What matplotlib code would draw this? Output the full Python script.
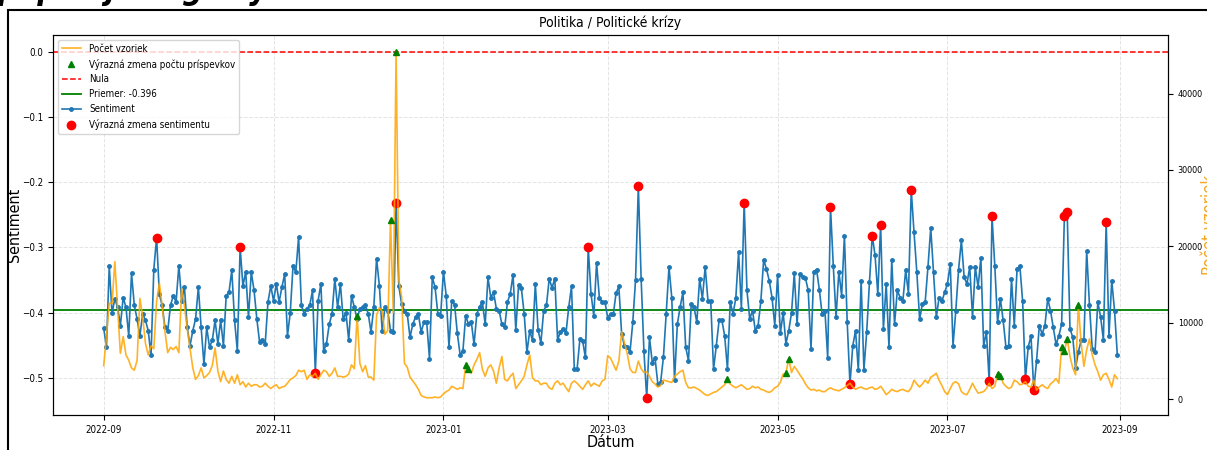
import pandas as pd
import numpy as np
import matplotlib
matplotlib.use("Agg")
import matplotlib.pyplot as plt
from matplotlib.patches import Rectangle

start_date = "2022-09-01"
n_days = 365

sentiment = [
    -0.424, -0.453, -0.329, -0.401, -0.379, -0.392, -0.420, -0.377, -0.392, -0.436,
    -0.340, -0.389, -0.410, -0.436, -0.402, -0.412, -0.428, -0.466, -0.334, -0.285,
    -0.372, -0.389, -0.423, -0.428, -0.389, -0.374, -0.384, -0.328, -0.382, -0.361,
    -0.423, -0.451, -0.428, -0.410, -0.361, -0.423, -0.479, -0.423, -0.453, -0.443,
    -0.412, -0.448, -0.412, -0.451, -0.374, -0.369, -0.335, -0.412, -0.459, -0.300,
    -0.359, -0.338, -0.407, -0.338, -0.366, -0.410, -0.446, -0.443, -0.448, -0.384,
    -0.359, -0.382, -0.356, -0.384, -0.361, -0.341, -0.436, -0.400, -0.328, -0.338,
    -0.284, -0.389, -0.402, -0.394, -0.389, -0.366, -0.493, -0.382, -0.356, -0.459,
    -0.448, -0.418, -0.402, -0.348, -0.392, -0.356, -0.410, -0.400, -0.443, -0.374,
    -0.392, -0.410, -0.394, -0.392, -0.389, -0.402, -0.430, -0.392, -0.317, -0.359,
    -0.428, -0.392, -0.397, -0.428, -0.430, -0.232, -0.360, -0.387, -0.397, -0.402,
    -0.438, -0.418, -0.407, -0.402, -0.430, -0.415, -0.415, -0.471, -0.346, -0.361,
    -0.402, -0.405, -0.337, -0.374, -0.453, -0.382, -0.388, -0.432, -0.465, -0.459,
    -0.405, -0.418, -0.414, -0.449, -0.402, -0.391, -0.384, -0.418, -0.346, -0.377,
    -0.369, -0.394, -0.397, -0.418, -0.423, -0.384, -0.371, -0.342, -0.427, -0.357,
    -0.363, -0.402, -0.461, -0.428, -0.443, -0.356, -0.427, -0.447, -0.397, -0.389,
    -0.348, -0.362, -0.348, -0.442, -0.430, -0.425, -0.432, -0.392, -0.360, -0.487,
    -0.487, -0.441, -0.444, -0.469, -0.300, -0.371, -0.405, -0.324, -0.377, -0.384,
    -0.384, -0.408, -0.402, -0.403, -0.370, -0.360, -0.433, -0.451, -0.453, -0.461,
    -0.415, -0.350, -0.206, -0.348, -0.459, -0.531, -0.438, -0.477, -0.470, -0.510,
    -0.507, -0.469, -0.402, -0.330, -0.377, -0.504, -0.418, -0.392, -0.369, -0.453,
    -0.474, -0.387, -0.392, -0.415, -0.348, -0.379, -0.330, -0.382, -0.383, -0.487,
    -0.451, -0.412, -0.412, -0.436, -0.487, -0.384, -0.402, -0.378, -0.307, -0.394,
    -0.231, -0.366, -0.410, -0.397, -0.428, -0.420, -0.382, -0.319, -0.333, -0.351,
    -0.377, -0.420, -0.343, -0.432, -0.400, -0.448, -0.428, -0.401, -0.340, -0.418,
    -0.341, -0.345, -0.347, -0.366, -0.456, -0.337, -0.334, -0.365, -0.403, -0.397,
    -0.470, -0.238, -0.328, -0.407, -0.337, -0.374, -0.282, -0.415, -0.510, -0.451,
    -0.428, -0.489, -0.351, -0.488, -0.430, -0.353, -0.282, -0.312, -0.372, -0.265,
    -0.425, -0.356, -0.453, -0.319, -0.418, -0.366, -0.377, -0.382, -0.335, -0.371,
    -0.212, -0.277, -0.338, -0.410, -0.387, -0.384, -0.330, -0.270, -0.338, -0.407,
    -0.377, -0.383, -0.369, -0.356, -0.325, -0.451, -0.397, -0.334, -0.289, -0.346,
    -0.356, -0.330, -0.407, -0.330, -0.361, -0.316, -0.451, -0.430, -0.506, -0.252,
    -0.328, -0.415, -0.379, -0.412, -0.453, -0.451, -0.348, -0.420, -0.333, -0.328,
    -0.383, -0.502, -0.453, -0.436, -0.519, -0.474, -0.420, -0.433, -0.420, -0.379,
    -0.397, -0.423, -0.449, -0.436, -0.418, -0.252, -0.246, -0.425, -0.438, -0.485,
    -0.461, -0.443, -0.443, -0.305, -0.389, -0.456, -0.461, -0.384, -0.407, -0.442,
    -0.261, -0.436, -0.351, -0.397, -0.465,
]

counts = [
    4400, 8200, 12600, 12500, 18000, 12100, 6000, 8200, 5800, 5100,
    4100, 3800, 5100, 13200, 10800, 7300, 5800, 7000, 6600, 12800,
    15200, 12200, 8900, 6100, 6800, 6500, 6900, 6100, 14500, 12200,
    9200, 6600, 4100, 2600, 3100, 4100, 2800, 3100, 3500, 4400,
    6700, 3700, 2300, 3700, 2600, 2100, 3000, 2100, 3200, 1900,
    2300, 1600, 2100, 1700, 1900, 1900, 1600, 1700, 2100, 1700,
    1400, 1700, 1900, 1400, 1600, 1700, 2100, 2600, 2800, 3100,
    3800, 3600, 3800, 2600, 3200, 3000, 3400, 2600, 3200, 3800,
    3600, 3000, 3400, 4100, 3000, 3000, 2900, 3000, 3300, 4500,
    4000, 10900, 4700, 3600, 4400, 2900, 2900, 2500, 11000, 12000,
    11500, 8500, 9000, 23500, 11300, 45400, 15600, 13400, 4700, 4200,
    2900, 2400, 1900, 1300, 500, 300, 200, 200, 200, 300,
    200, 300, 700, 1000, 1200, 1700, 1500, 1300, 1500, 1400,
    4500, 4000, 3400, 4500, 5200, 6100, 3900, 3000, 4100, 4500,
    3700, 2100, 4100, 5600, 2600, 2400, 3000, 3400, 1400, 1900,
    2400, 3000, 4500, 5800, 2800, 2400, 2400, 1900, 2100, 2100,
    1500, 1300, 2100, 2400, 1900, 2100, 1500, 1000, 2100, 2400,
    2100, 1700, 1300, 1900, 2400, 1700, 2100, 1900, 1700, 2400,
    2600, 5700, 5400, 4600, 3800, 5000, 8800, 7400, 6000, 4000,
    3500, 3500, 5000, 4000, 3500, 3600, 3000, 2300, 2000, 1600,
    1800, 2500, 2400, 2300, 2200, 3000, 3300, 3600, 3800, 2200,
    1500, 1500, 1600, 1400, 1200, 900, 600, 500, 700, 900,
    1000, 1300, 1600, 1900, 2600, 2000, 1700, 1500, 1700, 1900,
    1600, 1300, 1400, 1700, 1500, 1600, 1300, 1200, 1000, 900,
    1100, 1500, 1700, 2200, 3300, 3400, 5300, 3500, 4300, 3800,
    3200, 2700, 2000, 1500, 1200, 1300, 1100, 1200, 1000, 1000,
    1300, 1500, 1300, 1200, 1100, 1300, 1500, 1800, 2100, 1600,
    1300, 1500, 1600, 1400, 1300, 1500, 1600, 1300, 1400, 1700,
    1200, 600, 900, 1300, 1100, 1000, 1200, 1300, 1100, 1000,
    1500, 2500, 2000, 1600, 2000, 2500, 2100, 2900, 3100, 3400,
    2500, 1800, 1000, 600, 1400, 2100, 2300, 2000, 1000, 700,
    600, 1300, 2100, 1400, 800, 900, 1000, 1400, 2100, 1400,
    1700, 3300, 3100, 2100, 1700, 1400, 1600, 2500, 2300, 1900,
    2000, 2300, 1700, 1600, 2500, 1200, 1600, 1900, 1600, 1400,
    2000, 2300, 2700, 2100, 6800, 6300, 7900, 5600, 4100, 3200,
    12300, 7400, 4300, 6500, 7900, 5800, 4500, 3600, 2500, 3200,
    3400, 2600, 1600, 3200, 2700,
]

# indices of days with significant changes
sentiment_change_days = [19, 49, 76, 105, 174, 192, 195, 230, 261, 268,
                         276, 279, 290, 318, 319, 331, 334, 345, 346, 360]
count_change_days = [91, 103, 105, 130, 131, 224, 245, 246, 321, 322,
                     344, 345, 346, 350]
mean_sentiment = -0.396

plt.rcParams["font.stretch"] = "condensed"

dates = pd.date_range(start_date, periods=n_days, freq="D")
df = pd.DataFrame({"date": dates, "sentiment": sentiment, "count": counts})

fig = plt.figure(figsize=(12.07, 4.5), dpi=100)
ax1 = fig.add_axes([53 / 1207, 35 / 450, 1115 / 1207, 380 / 450])
ax2 = ax1.twinx()

# count axis
ax2.plot(df["date"], df["count"], color="orange", lw=1.2, alpha=0.85,
         label="Počet vzoriek")
cc = df.iloc[count_change_days]
ax2.plot(cc["date"], cc["count"], "^", color="green", markersize=5,
         linestyle="none", label="Výrazná zmena počtu príspevkov")
ax2.set_ylabel("Počet vzoriek", color="#f5a623", fontsize=12)
ax2.yaxis.set_label_coords(1.0295, 0.5)
ax2.tick_params(axis="y", labelsize=6.5)

# sentiment axis
ax1.axhline(0, color="red", linestyle="--", lw=1.1, label="Nula")
ax1.axhline(mean_sentiment, color="green", lw=1.3,
            label=f"Priemer: {mean_sentiment:.3f}")
ax1.plot(df["date"], df["sentiment"], color="#1f77b4", lw=1.2, marker="o",
         markersize=2.5, label="Sentiment")
sc = df.iloc[sentiment_change_days]
ax1.plot(sc["date"], sc["sentiment"], "o", color="red", markersize=6,
         linestyle="none", label="Výrazná zmena sentimentu", zorder=5)
ax1.set_ylabel("Sentiment", fontsize=11.5)
ax1.yaxis.set_label_coords(-0.028, 0.5)
ax1.set_xlabel("Dátum", fontsize=11.5, labelpad=0)
ax1.set_title("Politika / Politické krízy", fontsize=10)
ax1.tick_params(axis="both", labelsize=7)
ax1.grid(True, linestyle="--", alpha=0.35, lw=0.7)

h1, l1 = ax1.get_legend_handles_labels()
h2, l2 = ax2.get_legend_handles_labels()
ax2.legend(h2 + h1, l2 + l1, loc="upper left", fontsize=7)

# page frame and clipped caption from the source document
fig.add_artist(Rectangle((8 / 1207, -0.05), 1.2, 440 / 450 + 0.05,
                         transform=fig.transFigure, fill=False,
                         edgecolor="black", lw=1.5))
fig.text(-0.002, 1 + 0.5 / 450, "popisujúce grafy", fontsize=23,
         fontweight="bold", fontstyle="italic", va="baseline")

fig.savefig("out.png", dpi=100)
